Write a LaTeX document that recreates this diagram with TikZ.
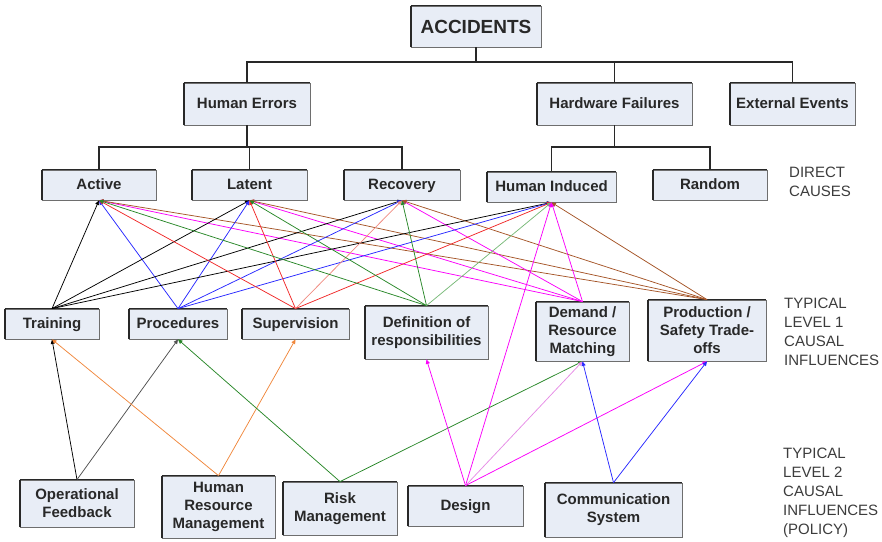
\documentclass[tikz,border=0pt]{standalone}
\usepackage{fontspec}
\setmainfont{Liberation Sans}
\usetikzlibrary{arrows.meta}
\definecolor{boxfill}{RGB}{232,237,246}
\definecolor{boxline}{RGB}{110,110,110}
\definecolor{boxdark}{RGB}{40,40,40}
\definecolor{txt}{RGB}{40,40,40}
\definecolor{sidetxt}{RGB}{60,60,60}
\definecolor{cblue}{RGB}{40,40,255}
\definecolor{cred}{RGB}{240,40,40}
\definecolor{clred}{RGB}{240,140,130}
\definecolor{cgreen}{RGB}{40,135,40}
\definecolor{clgreen}{RGB}{120,185,120}
\definecolor{cmag}{RGB}{250,0,250}
\definecolor{clmag}{RGB}{230,140,230}
\definecolor{cbrown}{RGB}{165,85,40}
\definecolor{corange}{RGB}{240,135,60}
\definecolor{cgray}{RGB}{80,80,80}
\tikzset{
  box/.style={draw=boxline, line width=0.8pt, fill=boxfill, inner sep=0pt,
    align=center, text=txt, font=\fontsize{15}{18}\selectfont\bfseries},
  oneline/.style={text height=11pt, text depth=3pt},
  sidelabel/.style={anchor=west, align=left, text=sidetxt, inner sep=0pt,
    font=\fontsize{15}{19}\selectfont},
  tree/.style={draw=boxdark, line width=1.1pt},
  conn/.style={line width=0.75pt, -{Triangle[length=4.5pt,width=4pt]}},
  thickedge/.style={draw=boxdark, line width=2pt}
}
\begin{document}
\begin{tikzpicture}[x=1pt,y=-1pt]
\useasboundingbox (0,0) rectangle (882,541);
% ---- level 0 / 1 hierarchy
\node[box, minimum width=130pt, minimum height=41pt, font=\fontsize{19}{22}\selectfont\bfseries] (acc) at (476,26.5) {ACCIDENTS};
\node[box, oneline, minimum width=126pt, minimum height=42pt] (he) at (247,104) {Human Errors};
\node[box, oneline, minimum width=155pt, minimum height=42pt] (hf) at (614.5,104) {Hardware Failures};
\node[box, oneline, minimum width=125pt, minimum height=42pt] (ee) at (792.5,104) {External Events};
% ---- direct causes
\node[box, oneline, minimum width=114pt, minimum height=30pt] (act) at (99,185) {Active};
\node[box, oneline, minimum width=115pt, minimum height=30pt] (lat) at (249.5,185) {Latent};
\node[box, oneline, minimum width=116pt, minimum height=30pt] (rec) at (402,185) {Recovery};
\node[box, oneline, minimum width=129pt, minimum height=30pt] (hi) at (551.5,187) {Human Induced};
\node[box, oneline, minimum width=114pt, minimum height=30pt] (rnd) at (710,185) {Random};
% ---- level 1
\node[box, oneline, minimum width=94pt, minimum height=30pt] (trn) at (52,324) {Training};
\node[box, oneline, minimum width=98pt, minimum height=30pt] (prc) at (178,324) {Procedures};
\node[box, oneline, minimum width=107pt, minimum height=30pt] (sup) at (295.5,324) {Supervision};
\node[box, minimum width=123pt, minimum height=53pt] (def) at (426.5,332.5) {Definition of\\responsibilities};
\node[box, minimum width=93pt, minimum height=59pt] (dem) at (582.5,331.5) {Demand /\\Resource\\Matching};
\node[box, minimum width=118pt, minimum height=61pt] (prd) at (707,330.5) {Production /\\Safety Trade-\\offs};
% ---- level 2
\node[box, minimum width=114pt, minimum height=47pt] (opf) at (77,503.5) {Operational\\Feedback};
\node[box, minimum width=113pt, minimum height=62pt] (hrm) at (218.5,507) {Human\\Resource\\Management};
\node[box, minimum width=114pt, minimum height=53pt] (rsk) at (340,508.5) {Risk\\Management};
\node[box, oneline, minimum width=115pt, minimum height=40pt] (dsg) at (465.5,506) {Design};
\node[box, minimum width=137pt, minimum height=54pt] (com) at (613.5,510) {Communication\\System};
% ---- bevel edges
\foreach \n in {acc,he,hf,ee,act,lat,rec,hi,rnd,trn,prc,sup,def,dem,prd,opf,hrm,rsk,dsg,com}{
  \draw[thickedge] (\n.south west) -- (\n.north west);
  \draw[draw=boxdark, line width=1.2pt] (\n.north west) -- (\n.north east);
}
% ---- side labels
\node[sidelabel] (lbl1) at (789,181.5) {DIRECT\\CAUSES};
\node[sidelabel] (lbl2) at (784,331.5) {TYPICAL\\LEVEL 1\\CAUSAL\\INFLUENCES};
\node[sidelabel] (lbl3) at (783,493) {TYPICAL\\LEVEL 2\\CAUSAL\\INFLUENCES\\(POLICY)};
% ---- tree lines
\coordinate (b0) at (476,62);
\draw[tree] (acc.south) -- (b0);
\draw[tree] (he.north) |- (b0) -| (ee.north);
\draw[tree] (hf.north) -- (hf.north |- b0);
\coordinate (b1) at (247,147);
\draw[tree] (he.south) -- (b1);
\draw[tree] (act.north) |- (b1) -| (rec.north);
\draw[tree] (lat.north) -- (lat.north |- b1);
\coordinate (b2) at (614.5,147);
\draw[tree] (hf.south) -- (b2);
\draw[tree] (hi.north) |- (b2) -| (rnd.north);
% ---- level 1 -> direct causes
\foreach \t in {act,lat,rec,hi}{
  \draw[conn, black] (trn.north) -- (\t.south);
  \draw[conn, cblue] (prc.north) -- (\t.south);
  \draw[conn, cmag] (dem.north) -- (\t.south);
  \draw[conn, cbrown] (prd.north) -- (\t.south);
}
\draw[conn, cred] (sup.north) -- (act.south);
\draw[conn, cred] (sup.north) -- (lat.south);
\draw[conn, clred] (sup.north) -- (rec.south);
\draw[conn, cred] (sup.north) -- (hi.south);
\draw[conn, cgreen] (def.north) -- (act.south);
\draw[conn, cgreen] (def.north) -- (lat.south);
\draw[conn, cgreen] (def.north) -- (rec.south);
\draw[conn, clgreen] (def.north) -- (hi.south);
% ---- level 2 -> level 1
\draw[conn, black] (opf.north) -- (trn.south);
\draw[conn, cgray] (opf.north) -- (prc.south);
\draw[conn, corange] (hrm.north) -- (trn.south);
\draw[conn, corange] (hrm.north) -- (sup.south);
\draw[conn, cgreen] (rsk.north) -- (prc.south);
\draw[conn, cgreen] (rsk.north) -- (dem.south);
\draw[conn, cmag] (dsg.north) -- (def.south);
\draw[conn, cmag] (dsg.north) -- (hi.south);
\draw[conn, clmag] (dsg.north) -- (dem.south);
\draw[conn, cmag] (dsg.north) -- (prd.south);
\draw[conn, cblue] (com.north) -- (dem.south);
\draw[conn, cblue] (com.north) -- (prd.south);
\end{tikzpicture}
\end{document}
